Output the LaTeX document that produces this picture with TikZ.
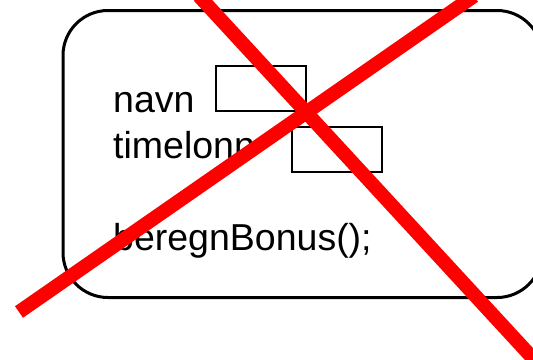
\documentclass[tikz,border=0pt]{standalone}
\usepackage{fontspec}
\setmainfont{Liberation Sans}
\begin{document}
\begin{tikzpicture}[x=1pt,y=-1pt,
  label/.style={anchor=base west,inner sep=0pt,font=\fontsize{37.5}{42}\selectfont},
  field/.style={draw=black,line width=1.5pt,minimum width=90pt,minimum height=45pt,inner sep=0pt,anchor=north west},
  cross/.style={draw={rgb,255:red,255;green,0;blue,0},line width=14pt}]
\useasboundingbox (0,0) rectangle (533,359);
\clip (0,0) rectangle (533,359);
\draw[line width=3pt,rounded corners=45pt] (63,10.5) rectangle (542,297.5);
\node[label] (navn) at (113,112) {navn};
\node[label] (timelonn) at (113,158) {timelonn};
\node[label] (bonus) at (113,250) {beregnBonus();};
\node[field] (f1) at (215,65) {};
\node[field] (f2) at (291,126) {};
\coordinate (a1) at (199,-4);
\coordinate (a2) at (540,366);
\coordinate (b1) at (19,312);
\coordinate (b2) at (474,-4);
\draw[cross] (a1) -- (a2);
\draw[cross] (b1) -- (b2);
\end{tikzpicture}
\end{document}
